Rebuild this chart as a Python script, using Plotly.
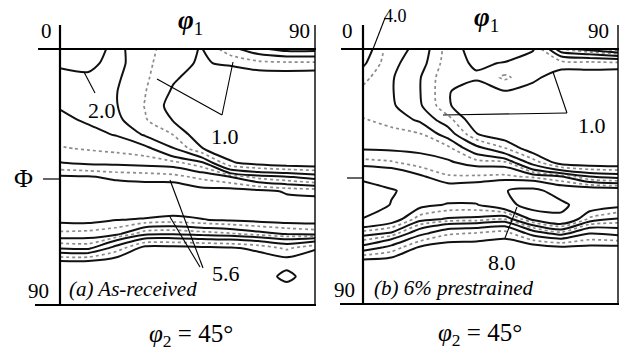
import numpy as np
import plotly.graph_objects as go

W, H = 627, 354

# ---- grid of the ODF section (phi2 = 45 deg) ----
phi1 = [0, 10, 20, 30, 40, 50, 60, 70, 80, 90]
Phi = [0, 5, 10, 15, 20, 25, 30, 35, 40, 45, 50, 55, 60, 65, 70, 75, 80, 85, 90]

# f(g) values, one list per phi1 column (Phi = 0..90 step 5)
fa_00 = [1.55, 1.9, 2.2, 2.45, 2.75, 2.95, 3.15, 3.45, 4.02, 5.8, 6.3, 6.5, 5.9, 4.6, 2.9, 0.9, 0.75, 0.68, 0.65]
fa_10 = [1.7, 1.85, 2.1, 2.3, 2.5, 2.72, 3.0, 3.35, 3.85, 5.7, 6.4, 6.6, 6.0, 4.5, 3.0, 0.9, 0.72, 0.66, 0.62]
fa_20 = [2.2, 2.25, 2.12, 2.02, 2.03, 2.2, 2.75, 3.25, 3.8, 5.4, 6.3, 6.6, 5.65, 4.2, 1.7, 0.75, 0.68, 0.62, 0.6]
fa_30 = [1.6, 1.55, 1.48, 1.42, 1.38, 1.45, 1.9, 3.1, 3.7, 5.3, 6.2, 6.5, 5.5, 3.0, 0.85, 0.65, 0.6, 0.58, 0.56]
fa_40 = [1.15, 1.08, 1.05, 0.95, 0.85, 0.98, 1.38, 2.05, 3.6, 5.1, 6.6, 6.5, 5.3, 2.9, 0.85, 0.65, 0.6, 0.58, 0.56]
fa_50 = [0.98, 0.97, 0.85, 0.75, 0.7, 0.68, 0.75, 1.02, 3.0, 4.6, 6.0, 6.3, 5.55, 3.1, 0.9, 0.66, 0.6, 0.58, 0.56]
fa_60 = [1.75, 1.05, 0.8, 0.68, 0.62, 0.6, 0.62, 0.8, 1.05, 4.05, 6.1, 6.3, 5.8, 3.3, 0.95, 0.68, 0.62, 0.6, 0.58]
fa_70 = [2.6, 1.25, 0.8, 0.65, 0.6, 0.58, 0.6, 0.68, 0.85, 3.2, 5.9, 6.1, 6.0, 3.7, 1.1, 0.75, 0.7, 0.66, 0.62]
fa_80 = [3.2, 1.3, 0.8, 0.65, 0.58, 0.55, 0.58, 0.62, 0.75, 2.9, 5.5, 6.0, 6.2, 4.05, 1.5, 0.8, 1.2, 0.75, 0.65]
fa_90 = [3.2, 1.3, 0.78, 0.62, 0.56, 0.55, 0.58, 0.62, 0.72, 2.5, 5.4, 6.0, 6.2, 4.3, 1.05, 0.72, 0.68, 0.65, 0.62]

# f(g) values
fb_00 = [4.6, 4.15, 3.6, 3.25, 3.1, 3.45, 3.7, 3.9, 5.1, 7.4, 9.4, 9.6, 7.9, 4.4, 2.6, 0.85, 0.7, 0.62, 0.6]
fb_10 = [3.05, 3.0, 2.9, 2.88, 2.95, 3.2, 3.6, 3.85, 4.9, 6.8, 8.2, 7.9, 6.5, 3.9, 1.8, 0.8, 0.68, 0.6, 0.58]
fb_20 = [2.65, 2.4, 2.06, 2.04, 2.12, 2.7, 3.45, 3.8, 4.4, 5.8, 7.2, 6.0, 4.4, 2.3, 0.95, 0.7, 0.62, 0.58, 0.56]
fb_30 = [1.2, 1.15, 1.05, 1.02, 1.05, 1.6, 2.5, 3.6, 4.1, 4.9, 6.5, 5.5, 3.9, 1.5, 0.8, 0.65, 0.6, 0.58, 0.56]
fb_40 = [0.85, 0.95, 1.05, 0.85, 0.7, 0.75, 1.02, 2.3, 3.7, 4.9, 6.8, 5.5, 3.8, 1.38, 0.8, 0.65, 0.6, 0.58, 0.56]
fb_50 = [0.8, 1.02, 1.5, 0.98, 0.75, 0.6, 0.75, 1.42, 3.6, 5.0, 7.9, 7.0, 3.45, 1.2, 0.75, 0.62, 0.58, 0.56, 0.55]
fb_60 = [0.95, 1.35, 1.1, 0.85, 0.7, 0.62, 0.6, 0.75, 1.7, 4.6, 8.8, 9.5, 6.0, 2.4, 0.8, 0.65, 0.6, 0.58, 0.56]
fb_70 = [3.6, 1.2, 0.8, 0.7, 0.65, 0.62, 0.62, 0.7, 0.8, 4.05, 6.8, 8.6, 7.5, 3.2, 0.95, 0.7, 0.62, 0.6, 0.58]
fb_80 = [4.5, 1.25, 0.78, 0.65, 0.6, 0.58, 0.58, 0.62, 0.72, 2.78, 7.0, 6.6, 4.6, 2.05, 0.9, 0.7, 0.62, 0.6, 0.58]
fb_90 = [5.8, 1.3, 0.7, 0.62, 0.58, 0.56, 0.56, 0.6, 0.7, 2.5, 6.8, 6.0, 3.95, 2.3, 0.9, 0.7, 0.62, 0.6, 0.58]

levels = [1.0, 1.4, 2.0, 2.8, 3.4, 4.0, 4.8, 5.6, 8.0]
level_gray = [False, True, False, False, True, False, True, False, False]

panel_a = [fa_00, fa_10, fa_20, fa_30, fa_40, fa_50, fa_60, fa_70, fa_80, fa_90]
panel_b = [fb_00, fb_10, fb_20, fb_30, fb_40, fb_50, fb_60, fb_70, fb_80, fb_90]


def log_grid(cols):
    return np.log2(np.array(cols, dtype=float).T)


fig = go.Figure()
for cols, xa, ya in [(panel_a, "x", "y"), (panel_b, "x2", "y2")]:
    zg = log_grid(cols)
    for lev, gray in zip(levels, level_gray):
        L = float(np.log2(lev))
        fig.add_trace(go.Contour(
            x=phi1, y=Phi, z=zg, xaxis=xa, yaxis=ya,
            autocontour=False,
            contours=dict(start=L, end=L, size=1, coloring="none"),
            line=dict(color="#8c8c8c" if gray else "#111111",
                      width=1.7 if gray else 2.0,
                      dash="dot" if gray else "solid",
                      smoothing=0.7),
            showscale=False, hoverinfo="skip", showlegend=False))

SERIF = "Liberation Serif, DejaVu Serif, Noto Serif, Times New Roman, serif"

ax_common = dict(showgrid=False, zeroline=False, showticklabels=False, ticks="",
                 showline=False, fixedrange=True)
fig.update_layout(
    width=W, height=H, autosize=False,
    margin=dict(l=0, r=0, t=0, b=0),
    paper_bgcolor="white", plot_bgcolor="white",
    font=dict(family=SERIF, color="black"),
    xaxis=dict(ax_common, range=[0, 90], domain=[60 / W, 315 / W], anchor="y"),
    yaxis=dict(ax_common, range=[90, 0], domain=[1 - 305 / H, 1 - 49 / H], anchor="x"),
    xaxis2=dict(ax_common, range=[0, 90], domain=[363 / W, 618 / W], anchor="y2"),
    yaxis2=dict(ax_common, range=[90, 0], domain=[1 - 304 / H, 1 - 49 / H], anchor="x2"),
)


def P(px, py):
    return px / W, 1 - py / H


shapes = []


def seg(x0, y0, x1, y1, w=1.0):
    a, b = P(x0, y0)
    c, d = P(x1, y1)
    shapes.append(dict(type="line", xref="paper", yref="paper", x0=a, y0=b, x1=c, y1=d,
                       line=dict(color="black", width=w)))


# frames panel (a)
seg(38, 49, 316, 49, 2.2)
seg(60, 25, 60, 306, 2.2)
seg(315, 25, 315, 306, 1.4)
seg(35, 305, 316, 305, 2.2)
seg(43, 179, 60, 179, 1.2)
# frames panel (b)
seg(341, 49, 619, 49, 2.2)
seg(363, 25, 363, 305, 2.2)
seg(618, 25, 618, 305, 1.4)
seg(340, 304, 619, 304, 2.2)
seg(347, 178, 363, 178, 1.2)

# leader lines
seg(84, 72, 95, 93, 1.1)
seg(157, 79, 222, 115, 1.1)
seg(222, 115, 233, 62, 1.1)
seg(170, 180, 203, 268, 1.1)
seg(170, 217, 200, 267, 1.1)
seg(385, 18, 373, 49, 1.1)
seg(443, 115, 567, 113, 1.1)
seg(567, 113, 553, 72, 1.1)
seg(505, 238, 517, 207, 1.1)

fig.update_layout(shapes=shapes)

ann = []


def txt(s, px, py, size, italic=False):
    a, b = P(px, py)
    if italic:
        s = "<i>" + s + "</i>"
    ann.append(dict(text=s, x=a, y=b, xref="paper", yref="paper", showarrow=False,
                    xanchor="center", yanchor="middle",
                    font=dict(family=SERIF, size=size, color="black")))


NB = "\u00a0"
PHI2 = "<i>φ</i><sub>2</sub>" + NB + "=" + NB + "45°"

# panel (a) texts
txt("0", 47, 31, 21)
txt("90", 299, 31, 21)
txt("<b><i>φ</i></b><sub>1</sub>", 190, 22, 27)
txt("Φ", 23, 178, 26)
txt("90", 38, 291, 21)
txt(PHI2, 191, 335, 25)
txt("2.0", 102, 110, 22)
txt("1.0", 225, 136, 22)
txt("5.6", 226, 273, 22)
txt("(a) As-received", 133, 289, 21, italic=True)
# panel (b) texts
txt("0", 347, 31, 21)
txt("90", 598, 31, 21)
txt("<b><i>φ</i></b><sub>1</sub>", 486, 19, 27)
txt("90", 344, 290, 21)
txt(PHI2, 480, 334, 25)
txt("4.0", 395, 16, 18)
txt("1.0", 592, 126, 22)
txt("8.0", 502, 262, 22)
txt("(b) 6% prestrained", 454, 288, 21, italic=True)

fig.update_layout(annotations=ann)

fig.write_html(
    "out.html",
    config={"displayModeBar": False, "staticPlot": True},
    post_script="document.body.style.margin='0';document.body.style.overflow='hidden';",
)
